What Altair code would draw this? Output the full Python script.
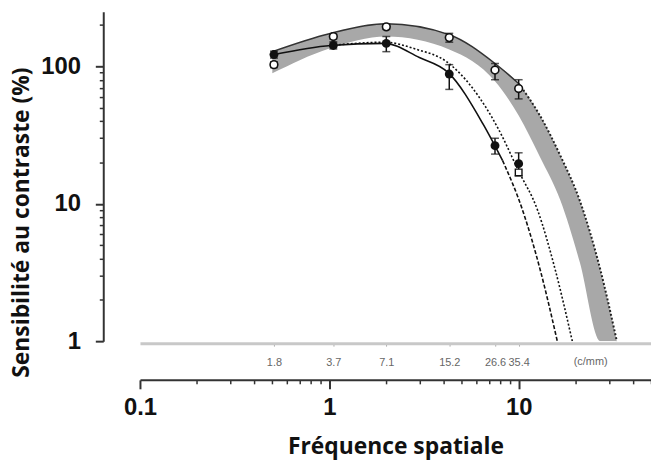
import altair as alt
import pandas as pd

# ---- data (spatial frequency in cycles/degree) ----
freq = [0.51, 1.05, 2.0, 4.3, 7.5, 10.0]
mm_labels = ["1.8", "3.7", "7.1", "15.2", "26.6", "35.4"]

open_y = [103, 165, 194, 162, 94, 69]
open_lo = [98, 158, 186, 150, 80, 58]
open_hi = [108, 172, 202, 174, 105, 80]

filled_y = [122, 142, 147, 88, 26.5, 19.6]
filled_lo = [115, 134, 128, 68, 23, 16]
filled_hi = [129, 151, 165, 103, 30, 23.5]

extra_x = [10.0]
extra_y = [16.9]

band_x = [0.5, 1.0, 2.0, 4.3, 7.5, 10, 13, 16.6, 21, 27, 33]
band_hi = [128, 173, 204, 170, 105, 75, 43.5, 22.4, 10.6, 3.31, 1]
band_lo = [89, 135, 165, 133, 78, 44, 21.7, 10.6, 3.78, 1, 1]

black_x = [0.51, 1.02, 1.96, 2.99, 4.25, 6.49, 8.23]
black_y = [122, 142, 147, 116, 90, 38, 20.6]
black_dash_x = [8.23, 10.5, 13.0, 16.0]
black_dash_y = [20.6, 8.95, 3.3, 1]

dot_x = [1.02, 1.96, 2.89, 4.15, 7.76, 10, 12.6, 15.6, 19.2]
dot_y = [142, 150, 133, 108.6, 35.7, 17.3, 8.95, 3.31, 1]

x_major = [0.1, 1, 10]
x_minor = [0.2, 0.3, 0.4, 0.5, 0.6, 0.7, 0.8, 0.9, 2, 3, 4, 5, 6, 7, 8, 9, 20, 30, 40, 50]
y_major = [1, 10, 100]
y_minor = [2, 3, 4, 5, 6, 7, 8, 9, 20, 30, 40, 50, 60, 70, 80, 90, 200]

# ---- tables ----
band_df = pd.DataFrame({"x": band_x, "hi": band_hi, "lo": band_lo})
edge_solid = pd.DataFrame({"x": band_x[:6], "y": band_hi[:6]})
edge_dot = pd.DataFrame({"x": band_x[5:], "y": band_hi[5:]})
black_df = pd.DataFrame({"x": black_x, "y": black_y})
black_dash_df = pd.DataFrame({"x": black_dash_x, "y": black_dash_y})
dot_df = pd.DataFrame({"x": dot_x, "y": dot_y})
open_df = pd.DataFrame({"x": freq, "y": open_y, "lo": open_lo, "hi": open_hi})
filled_df = pd.DataFrame({"x": freq, "y": filled_y, "lo": filled_lo, "hi": filled_hi})
extra_df = pd.DataFrame({"x": extra_x, "y": extra_y})
unit_df = pd.DataFrame({"x": [24.0], "t": ["(c/mm)"]})

xs = alt.Scale(type="log", domain=[0.1, 50], nice=False)
ys = alt.Scale(type="log", domain=[1, 250], nice=False)

LF = "Liberation Sans"
TF = "Open Sans"

ax_x_main = alt.Axis(orient="bottom", offset=39, values=x_major, format="~g", tickSize=9,
                     tickWidth=2, tickColor="#333", domainColor="#333", domainWidth=2,
                     labelFont=LF, labelFontWeight="bold", labelFontSize=24, labelColor="#111",
                     labelPadding=7, labelFlush=False, grid=False,
                     title="Fréquence spatiale", titleFont=TF, titleFontSize=23,
                     titleFontWeight="bold", titleColor="#111", titlePadding=16)
ax_x_minor = alt.Axis(orient="bottom", offset=39, values=x_minor, labels=False, tickSize=4,
                      tickWidth=1.5, tickColor="#333", domain=False, grid=False, title=None)
expr = "[" + ",".join("'%s'" % s for s in mm_labels) + "][indexof([" + ",".join(str(v) for v in freq) + "], datum.value)]"
ax_x_sec = alt.Axis(orient="bottom", offset=2, values=freq, labelExpr=expr, tickSize=3,
                    tickColor="#aaa", domainColor="#c8c8c8", domainWidth=3,
                    labelFont=LF, labelFontSize=11, labelColor="#666", labelPadding=11,
                    grid=False, title=None)
ax_y_main = alt.Axis(orient="left", offset=37, values=y_major, format="~g", tickSize=8,
                     tickWidth=2, tickColor="#333", domainColor="#333", domainWidth=2,
                     labelFont=LF, labelFontWeight="bold", labelFontSize=24, labelColor="#111",
                     labelPadding=15, grid=False,
                     title="Sensibilité au contraste (%)", titleFont=TF, titleFontSize=23,
                     titleFontWeight="bold", titleColor="#111", titleX=-70, titleY=212)
ax_y_minor = alt.Axis(orient="left", offset=37, values=y_minor, labels=False, tickSize=4,
                      tickWidth=1.5, tickColor="#333", domain=False, grid=False, title=None)

band = alt.Chart(band_df).mark_area(color="#a8a8a8", opacity=1, clip=True, interpolate="monotone").encode(
    x=alt.X("x:Q", scale=xs, axis=ax_x_main),
    y=alt.Y("hi:Q", scale=ys, axis=ax_y_main),
    y2="lo:Q",
)
edge1 = alt.Chart(edge_solid).mark_line(color="#333", strokeWidth=1.5, clip=True, interpolate="monotone").encode(
    x=alt.X("x:Q", scale=xs, axis=ax_x_minor),
    y=alt.Y("y:Q", scale=ys, axis=ax_y_minor),
)
edge2 = alt.Chart(edge_dot).mark_line(color="#222", strokeWidth=2, strokeDash=[2, 2], clip=True, interpolate="monotone").encode(
    x=alt.X("x:Q", scale=xs, axis=None),
    y=alt.Y("y:Q", scale=ys, axis=None),
)
black = alt.Chart(black_df).mark_line(color="#111", strokeWidth=1.6, clip=True, interpolate="monotone").encode(
    x=alt.X("x:Q", scale=xs, axis=None),
    y=alt.Y("y:Q", scale=ys, axis=None),
)
black_dash = alt.Chart(black_dash_df).mark_line(color="#111", strokeWidth=1.6, strokeDash=[4, 2], clip=True, interpolate="monotone").encode(
    x=alt.X("x:Q", scale=xs, axis=None),
    y=alt.Y("y:Q", scale=ys, axis=None),
)
dotted = alt.Chart(dot_df).mark_line(color="#111", strokeWidth=1.6, strokeDash=[2, 2], clip=True, interpolate="monotone").encode(
    x=alt.X("x:Q", scale=xs, axis=None),
    y=alt.Y("y:Q", scale=ys, axis=None),
)

def errbars(df):
    rule = alt.Chart(df).mark_rule(color="#111", strokeWidth=1.5).encode(
        x=alt.X("x:Q", scale=xs, axis=None),
        y=alt.Y("lo:Q", scale=ys, axis=None),
        y2="hi:Q",
    )
    cap_lo = alt.Chart(df).mark_tick(orient="horizontal", color="#111", size=8, thickness=1.5).encode(
        x=alt.X("x:Q", scale=xs, axis=None),
        y=alt.Y("lo:Q", scale=ys, axis=None),
    )
    cap_hi = alt.Chart(df).mark_tick(orient="horizontal", color="#111", size=8, thickness=1.5).encode(
        x=alt.X("x:Q", scale=xs, axis=None),
        y=alt.Y("hi:Q", scale=ys, axis=None),
    )
    return [rule, cap_lo, cap_hi]

open_pts = alt.Chart(open_df).mark_point(shape="circle", filled=True, fill="white", stroke="#111",
                                         strokeWidth=1.6, size=60, opacity=1).encode(
    x=alt.X("x:Q", scale=xs, axis=None),
    y=alt.Y("y:Q", scale=ys, axis=None),
)
filled_pts = alt.Chart(filled_df).mark_point(shape="circle", filled=True, color="#111",
                                             size=80, opacity=1).encode(
    x=alt.X("x:Q", scale=xs, axis=None),
    y=alt.Y("y:Q", scale=ys, axis=None),
)
extra_pts = alt.Chart(extra_df).mark_point(shape="square", filled=True, fill="white", stroke="#111",
                                           strokeWidth=1.4, size=45, opacity=1).encode(
    x=alt.X("x:Q", scale=xs, axis=None),
    y=alt.Y("y:Q", scale=ys, axis=None),
)
unit = alt.Chart(unit_df).mark_text(font=LF, fontSize=11, color="#666", baseline="middle").encode(
    x=alt.X("x:Q", scale=xs, axis=ax_x_sec),
    y=alt.value(353),
    text="t:N",
)

layers = [band, edge1, edge2, black, black_dash, dotted] + errbars(open_df) + errbars(filled_df) + \
    [extra_pts, open_pts, filled_pts, unit]

chart = alt.layer(*layers).resolve_axis(x="independent", y="independent").properties(
    width=515, height=332,
    autosize=alt.AutoSizeParams(type="none"),
    padding={"left": 133, "top": 2, "right": 0, "bottom": 118},
    background="white",
).configure_view(stroke=None)

chart.save("out.html", embed_options={"renderer": "svg", "actions": False})
